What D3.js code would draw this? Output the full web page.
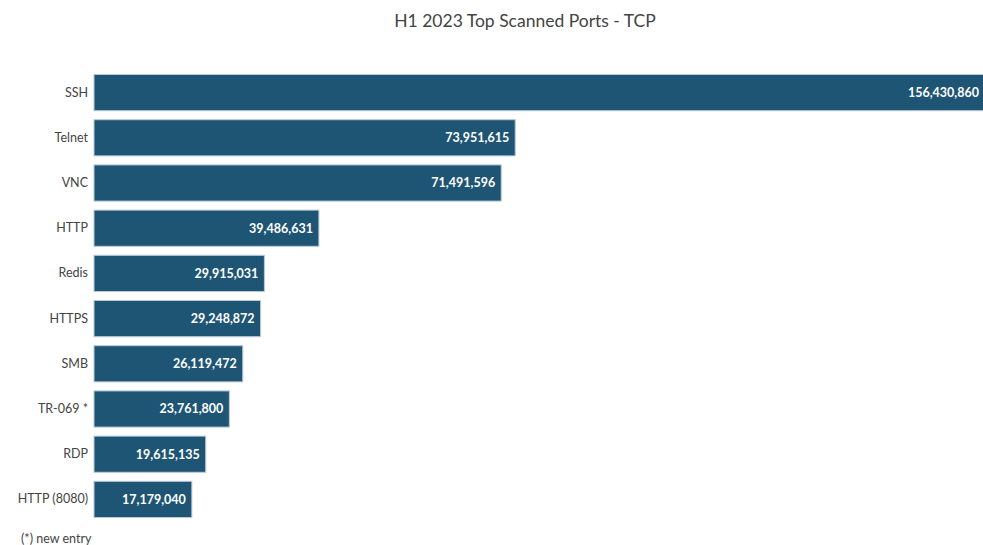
<!DOCTYPE html>
<html><head><meta charset="utf-8">
<script src="https://cdn.jsdelivr.net/npm/d3@7"></script>
<style>
body{margin:0;background:#fff;}
svg{display:block;font-family:"Source Sans Pro","Lato","Noto Sans",sans-serif;}
</style></head>
<body>
<svg id="chart" width="983" height="545"></svg>
<script>
const categories = ["SSH","Telnet","VNC","HTTP","Redis","HTTPS","SMB","TR-069 *","RDP","HTTP (8080)"];
const values = [156430860,73951615,71491596,39486631,29915031,29248872,26119472,23761800,19615135,17179040];
const title = "H1 2023 Top Scanned Ports - TCP";
const footnote = "(*) new entry";

const svg = d3.select("#chart");
const x = d3.scaleLinear().domain([0, d3.max(values)]).range([94, 985]);
const y = d3.scaleBand().domain(categories).range([70, 522]).paddingInner(0.2).paddingOuter(0.1);

svg.append("text").attr("x", 525).attr("y", 27).attr("text-anchor","middle")
  .attr("font-size", 17.5).attr("fill","#444").text(title);

const data = categories.map((c,i)=>({c, v: values[i]}));

svg.selectAll("rect.bar").data(data).join("rect").attr("class","bar")
  .attr("x", x(0)).attr("y", d=>y(d.c))
  .attr("width", d=>x(d.v)-x(0)).attr("height", y.bandwidth())
  .attr("fill","#1e5574").attr("stroke","#b8c9d8").attr("stroke-width",1);

svg.selectAll("text.val").data(data).join("text").attr("class","val")
  .attr("x", d=>x(d.v)-6).attr("y", d=>y(d.c)+y.bandwidth()/2)
  .attr("dy","0.35em").attr("text-anchor","end")
  .attr("font-size", 12.5).attr("font-weight","bold").attr("fill","#fff")
  .text(d=>d3.format(",")(d.v));

const yAxis = svg.append("g").attr("transform",`translate(${x(0)},0)`)
  .call(d3.axisLeft(y).tickSize(0).tickPadding(6));
yAxis.select(".domain").remove();
yAxis.selectAll("text").attr("font-size",12.5).attr("fill","#444")
  .style("font-family",'"Source Sans Pro","Lato","Noto Sans",sans-serif');

svg.append("text").attr("x", 21).attr("y", 543).attr("font-size", 12.5).attr("fill","#444").text(footnote);
</script>
</body></html>
